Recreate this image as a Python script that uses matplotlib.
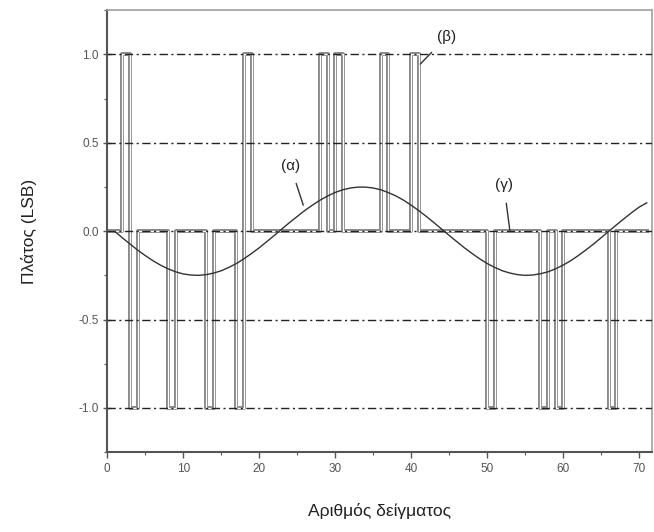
import numpy as np
import matplotlib
matplotlib.use("Agg")
import matplotlib.pyplot as plt
import matplotlib.patheffects as pe
from matplotlib.ticker import MultipleLocator, FormatStrFormatter

plt.rcParams['font.family'] = ['Liberation Sans', 'DejaVu Sans']

# (α) input signal at every sample
n_sine = np.arange(1, 72)
y_sine = [
    -0.002, -0.038, -0.073, -0.107, -0.138, -0.167, -0.192, -0.213, -0.230, -0.242,
    -0.248, -0.250, -0.246, -0.237, -0.224, -0.205, -0.183, -0.156, -0.126, -0.094,
    -0.059, -0.024,  0.013,  0.049,  0.083,  0.117,  0.147,  0.175,  0.199,  0.219,
     0.234,  0.244,  0.249,  0.249,  0.244,  0.234,  0.218,  0.199,  0.175,  0.147,
     0.116,  0.083,  0.048,  0.012, -0.024, -0.059, -0.094, -0.126, -0.156, -0.183,
    -0.205, -0.224, -0.237, -0.246, -0.250, -0.248, -0.241, -0.230, -0.213, -0.192,
    -0.167, -0.138, -0.106, -0.073, -0.037, -0.001,  0.035,  0.070,  0.104,  0.136,
     0.160,
]

# (β) quantised output, one value per sample (held for one sample)
n_q = np.arange(0, 72)
up_samples = [2, 18, 28, 30, 36, 40]
down_samples = [3, 8, 13, 17, 50, 57, 59, 66]
y_q = np.zeros(len(n_q))
y_q[up_samples] = 1
y_q[down_samples] = -1

grid_levels = [-1.0, -0.5, 0.0, 0.5, 1.0]

fig = plt.figure(figsize=(6.54, 5.32), dpi=100)
ax = fig.add_axes([0.164, 0.150, 0.833, 0.831])

# pulses drawn as hollow grey strokes
ax.step(n_q, y_q, where='post', color='white', lw=0.9, zorder=2,
        path_effects=[pe.Stroke(linewidth=2.8, foreground='#858585'), pe.Normal()])

for lv in grid_levels:
    ax.axhline(lv, color='#222222', lw=1.0, ls=(0, (6, 2.5, 1.5, 2.5)), zorder=3)

ax.plot(n_sine, y_sine, color='#333333', lw=1.0, zorder=4)

ax.set_xlim(0, 71.7)
ax.set_ylim(-1.25, 1.25)

ax.xaxis.set_major_locator(MultipleLocator(10))
ax.xaxis.set_minor_locator(MultipleLocator(5))
ax.yaxis.set_major_locator(MultipleLocator(0.5))
ax.yaxis.set_minor_locator(MultipleLocator(0.25))
ax.yaxis.set_major_formatter(FormatStrFormatter('%.1f'))

ax.tick_params(axis='x', which='major', direction='out', length=4, width=1.0,
               colors='#555555', labelsize=8.5, pad=4)
ax.tick_params(axis='x', which='minor', direction='out', length=2.5, width=0.8, colors='#555555')
ax.tick_params(axis='y', which='major', direction='inout', length=6, width=1.0,
               colors='#555555', labelsize=8.5, pad=3)
ax.tick_params(axis='y', which='minor', direction='out', length=2.5, width=0.8, colors='#555555')

for side in ['left', 'bottom']:
    ax.spines[side].set_color('#555555')
    ax.spines[side].set_linewidth(1.5)
for side in ['top', 'right']:
    ax.spines[side].set_color('#a0a0a0')
    ax.spines[side].set_linewidth(1.2)

ax.set_xlabel('Αριθμός δείγματος', fontsize=12.5, color='#222222', labelpad=20)
ax.set_ylabel('Πλάτος (LSB)', fontsize=12.5, color='#222222', labelpad=30)

ann = dict(fontsize=11, color='#222222', ha='center', va='center',
           arrowprops=dict(arrowstyle='-', color='#333333', lw=1.0, shrinkA=6, shrinkB=0))
ax.annotate('(α)', xy=(25.8, 0.147), xytext=(24.1, 0.37), **ann)
ax.annotate('(β)', xy=(41.2, 0.945), xytext=(44.7, 1.10), **ann)
ax.annotate('(γ)', xy=(53.0, 0.0), xytext=(52.2, 0.26), **ann)

fig.savefig('out.png', dpi=100)
